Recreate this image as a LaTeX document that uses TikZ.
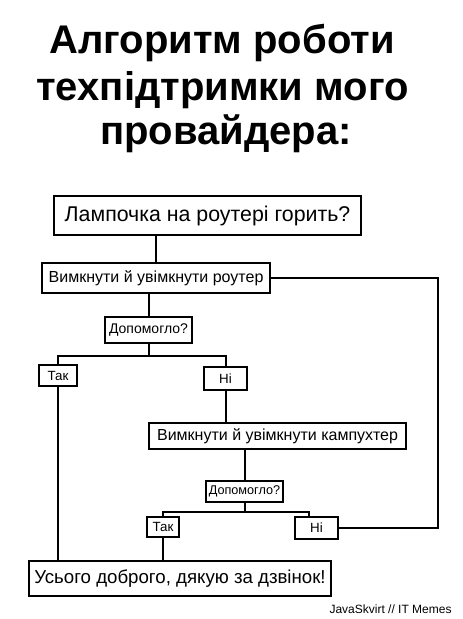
\documentclass[tikz,border=0pt]{standalone}
\usepackage{fontspec}
\setmainfont{Liberation Sans}
\begin{document}
\begin{tikzpicture}[x=0.75pt, y=-0.75pt, line width=1.5pt,
    box/.style={draw, line width=1.5pt, inner sep=0pt, align=center},
    title/.style={anchor=base, font=\fontsize{30}{36}\selectfont\bfseries}]
    \useasboundingbox[fill=white] (0,0) rectangle (462,619);

    \node[title] (t1) at (222,53) {Алгоритм роботи};
    \node[title] (t2) at (222.5,100) {техпідтримки мого};
    \node[title] (t3) at (226,144) {провайдера:};

    \node[box, minimum width=230pt, minimum height=29pt, font=\fontsize{16}{20}\selectfont] (lamp) at (207.5,215.5) {Лампочка на роутері горить?};
    \node[box, minimum width=171pt, minimum height=22.5pt, font=\fontsize{12}{14}\selectfont] (router) at (156,278) {Вимкнути й увімкнути роутер};
    \node[box, minimum width=65pt, minimum height=19.5pt, font=\fontsize{10.5}{12}\selectfont] (help1) at (148.5,330) {Допомогло?};
    \node[box, minimum width=28.5pt, minimum height=16pt, font=\fontsize{10}{12}\selectfont] (yes1) at (58,375.5) {Так};
    \node[box, minimum width=32pt, minimum height=17pt, font=\fontsize{10}{12}\selectfont] (no1) at (225.5,378.5) {Ні};
    \node[box, minimum width=193pt, minimum height=19.5pt, font=\fontsize{12}{14}\selectfont] (pc) at (277.5,436) {Вимкнути й увімкнути кампухтер};
    \node[box, minimum width=58pt, minimum height=16pt, font=\fontsize{9.5}{11}\selectfont] (help2) at (244.5,491.5) {Допомогло?};
    \node[box, minimum width=24pt, minimum height=15pt, font=\fontsize{10}{12}\selectfont] (yes2) at (163,527) {Так};
    \node[box, minimum width=32pt, minimum height=16.5pt, font=\fontsize{10}{12}\selectfont] (no2) at (316.5,528) {Ні};
    \node[box, minimum width=226.5pt, minimum height=26pt, font=\fontsize{14}{17}\selectfont] (bye) at (180,578.5) {Усього доброго, дякую за дзвінок!};

    \node[anchor=base east, font=\fontsize{9}{11}\selectfont] (sign) at (457,613) {JavaSkvirt // IT Memes};

    % connectors
    \coordinate (rail) at (438,0);
    \draw (router.north) -- (router.north |- lamp.south);
    \draw (help1.north) -- (help1.north |- router.south);
    \draw (help1.south) -- ++(0,12) coordinate (fork1);
    \draw (yes1.north) |- (fork1) -| (no1.north);
    \draw (yes1.south) -- (yes1.south |- bye.north);
    \draw (no1.south) -- (no1.south |- pc.north);
    \draw (help2.north) -- (help2.north |- pc.south);
    \draw (help2.south) -- ++(0,9) coordinate (fork2);
    \draw (yes2.north) |- (fork2) -| ([xshift=-6pt]no2.north);
    \draw (yes2.south) -- (yes2.south |- bye.north);
    \draw (no2.east) -- (no2.east -| rail) |- (router.east);
\end{tikzpicture}
\end{document}
